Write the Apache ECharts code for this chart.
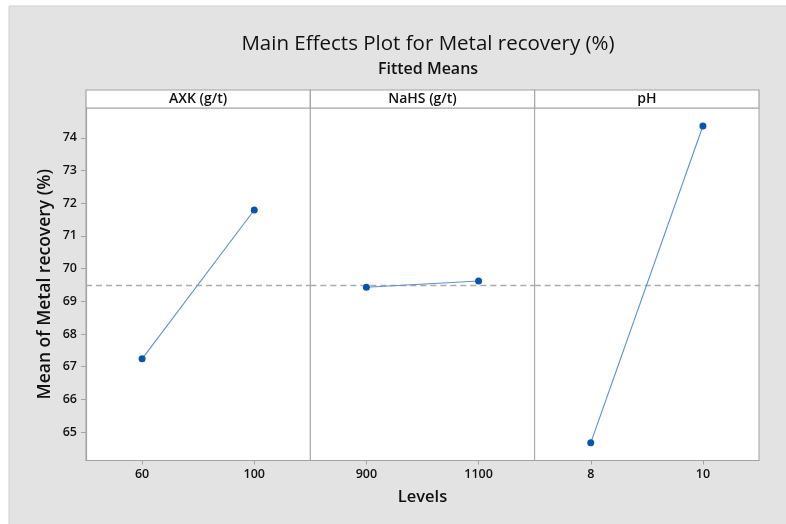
<!DOCTYPE html>
<html>
<head>
<meta charset="utf-8">
<script src="https://cdn.jsdelivr.net/npm/echarts@6/dist/echarts.min.js"></script>
<style>html,body{margin:0;padding:0;background:#fff;}#c{width:786px;height:524px;}</style>
</head>
<body>
<div id="c"></div>
<script>
const factors = ['AXK (g/t)', 'NaHS (g/t)', 'pH'];
const axkLevels = ['60', '100'];
const axkMeans = [67.24, 71.79];
const nahsLevels = ['900', '1100'];
const nahsMeans = [69.43, 69.62];
const phLevels = ['8', '10'];
const phMeans = [64.67, 74.36];
const overallMean = 69.49;
const yTicks = [65, 66, 67, 68, 69, 70, 71, 72, 73, 74];

const levelsList = [axkLevels, nahsLevels, phLevels];
const meansList = [axkMeans, nahsMeans, phMeans];

const FONT = 'Open Sans';
const plotLeft = 86, plotRight = 759, plotTop = 108, plotBottom = 460.5, headerTop = 90;
const pw = (plotRight - plotLeft) / 3;
const yMin = 64.13, yMax = 74.91;

const chart = echarts.init(document.getElementById('c'), null, {renderer: 'canvas'});

const grids = [], xAxes = [], yAxes = [], series = [], graphics = [];
graphics.push({type: 'rect', z: -100, shape: {x: 9, y: 6, width: 786, height: 530},
  style: {fill: '#e3e3e3', stroke: '#cfcfcf', lineWidth: 1}});

factors.forEach((f, i) => {
  const left = plotLeft + i * pw;
  grids.push({left: left, top: plotTop, width: pw, height: plotBottom - plotTop,
    show: true, backgroundColor: '#fff', borderColor: '#a3a3a3', borderWidth: 1});
  xAxes.push({type: 'category', gridIndex: i, data: levelsList[i], boundaryGap: true,
    axisLine: {show: true, lineStyle: {color: '#a3a3a3', width: 1.2}},
    axisTick: {show: true, alignWithLabel: true, length: 4, lineStyle: {color: '#a3a3a3'}},
    axisLabel: {color: '#111', fontSize: 12.5, fontFamily: FONT, margin: 7, fontWeight: 600},
    splitLine: {show: false}});
  yAxes.push({type: 'value', gridIndex: i, min: yMin, max: yMax,
    axisLine: {show: i === 0, lineStyle: {color: '#a3a3a3', width: 1.2}},
    axisTick: {show: i === 0, length: 5, customValues: yTicks, lineStyle: {color: '#a3a3a3'}},
    axisLabel: {show: i === 0, customValues: yTicks, color: '#111', fontSize: 12.5, fontFamily: FONT, margin: 9, fontWeight: 600},
    splitLine: {show: false},
    name: i === 0 ? 'Mean of Metal recovery (%)' : '',
    nameLocation: 'middle', nameGap: 32, nameRotate: 90,
    nameTextStyle: {color: '#111', fontSize: 17.5, fontFamily: FONT, fontWeight: 600}});
  series.push({type: 'line', xAxisIndex: i, yAxisIndex: i, data: meansList[i],
    symbol: 'circle', symbolSize: 7, showSymbol: true,
    lineStyle: {color: '#5a8fd6', width: 1.1},
    itemStyle: {color: '#0a55a8'},
    markLine: {silent: true, symbol: 'none', label: {show: false},
      lineStyle: {color: '#ababab', type: [6, 4], width: 1.3},
      data: [{yAxis: overallMean}]},
    z: 5});
  graphics.push({type: 'rect', shape: {x: left, y: headerTop, width: pw, height: plotTop - headerTop},
    style: {fill: '#fff', stroke: '#a3a3a3', lineWidth: 1.2}});
  graphics.push({type: 'text', x: left + pw / 2, y: (headerTop + plotTop) / 2,
    style: {text: f, fill: '#111', font: '600 14px "' + FONT + '"', align: 'center', verticalAlign: 'middle'}});
});

graphics.push({type: 'text', x: (plotLeft + plotRight) / 2, y: 497,
  style: {text: 'Levels', fill: '#111', font: '600 16.5px "' + FONT + '"', align: 'center', verticalAlign: 'middle'}});

chart.setOption({
  animation: false,
  backgroundColor: '#fff',
  title: [
    {text: 'Main Effects Plot for Metal recovery (%)', left: 423, top: 29, textAlign: 'center',
      textStyle: {color: '#111', fontSize: 20.5, fontWeight: 500, fontFamily: FONT}},
    {text: 'Fitted Means', left: 423, top: 56, textAlign: 'center',
      textStyle: {color: '#111', fontSize: 16, fontWeight: 600, fontFamily: FONT}}
  ],
  grid: grids, xAxis: xAxes, yAxis: yAxes, series: series, graphic: graphics
});
</script>
</body>
</html>
